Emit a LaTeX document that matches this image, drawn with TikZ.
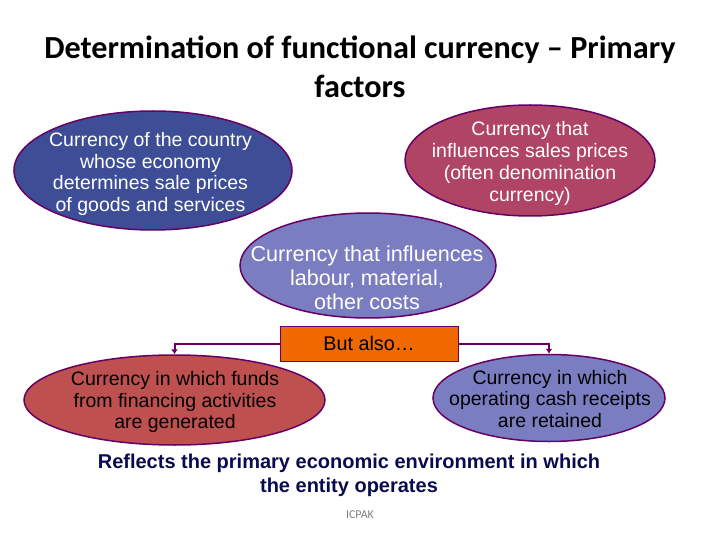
\documentclass[tikz,border=0pt]{standalone}
\usepackage{fontspec}
\setmainfont{Liberation Sans}
\newfontfamily\titlefont{Carlito}
\usetikzlibrary{shapes.geometric, arrows.meta}

\definecolor{edgepurple}{RGB}{102,0,102}
\definecolor{darkblue}{RGB}{62,78,150}
\definecolor{midblue}{RGB}{122,126,192}
\definecolor{rose}{RGB}{176,68,100}
\definecolor{brick}{RGB}{190,80,80}
\definecolor{boxorange}{RGB}{240,104,0}
\definecolor{navy}{RGB}{10,10,80}

\tikzset{
	oval/.style={draw=edgepurple, line width=1.5pt, ellipse, inner sep=0pt},
	ovaltext/.style={align=center, inner sep=0pt, font=\fontsize{19.5}{21.7}\selectfont},
	link/.style={draw=edgepurple, line width=2pt, -{Latex[length=5pt,width=7pt]}}
}

\begin{document}
\begin{tikzpicture}[x=1pt, y=-1pt]
	\useasboundingbox (0,0) rectangle (720,540);

	\node[font=\titlefont\bfseries\fontsize{32.2}{39}\selectfont, align=center] (title) at (360,67)
		{Determination of functional currency – Primary\\factors};

	\node[oval, fill=darkblue, minimum width=278pt, minimum height=119pt] (country) at (153,170.5) {};
	\node[ovaltext, text=white] (countrytext) at (150.5,174)
		{Currency of the country\\whose economy\\determines sale prices\\of goods and services};

	\node[oval, fill=rose, minimum width=250pt, minimum height=111pt] (sales) at (530,160.5) {};
	\node[ovaltext, text=white] (salestext) at (530,163.5)
		{Currency that\\influences sales prices\\(often denomination\\currency)};

	\node[oval, fill=midblue, minimum width=256pt, minimum height=105pt] (costs) at (368,265.5) {};
	\node[ovaltext, text=white, font=\fontsize{21.6}{24}\selectfont] (coststext) at (367,277.5)
		{Currency that influences\\labour, material,\\other costs};

	\node[draw=edgepurple, fill=boxorange, minimum width=178pt, minimum height=35pt,
		font=\fontsize{19.8}{22}\selectfont, inner sep=0pt] (also) at (369,343.5) {But also\dots};

	\node[oval, fill=brick, minimum width=301pt, minimum height=90pt] (funds) at (174.5,400) {};
	\node[ovaltext] (fundstext) at (175,402)
		{Currency in which funds\\from financing activities\\are generated};

	\node[oval, fill=midblue, minimum width=232pt, minimum height=87pt] (receipts) at (549,398) {};
	\node[ovaltext] (receiptstext) at (550,399)
		{Currency in which\\operating cash receipts\\are retained};

	\draw[link] (also.west) -| (funds.north);
	\draw[link] (also.east) -| (receipts.north);

	\node[font=\bfseries\fontsize{20}{24}\selectfont, text=navy, align=center] (reflects) at (349,475.5)
		{Reflects the primary economic environment in which\\the entity operates};
	\node[font=\titlefont\fontsize{12}{14}\selectfont, text=gray] (footer) at (360,515) {ICPAK};
\end{tikzpicture}
\end{document}
